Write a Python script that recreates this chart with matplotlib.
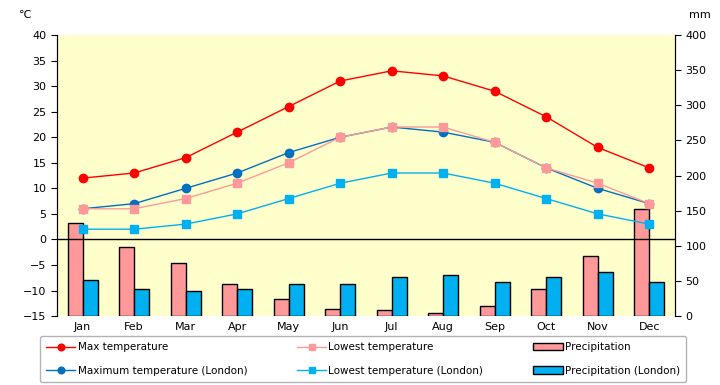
import matplotlib.pyplot as plt
import numpy as np

months = ["Jan", "Feb", "Mar", "Apr", "May", "Jun", "Jul", "Aug", "Sep", "Oct", "Nov", "Dec"]
max_temp = [12, 13, 16, 21, 26, 31, 33, 32, 29, 24, 18, 14]
low_temp = [6, 6, 8, 11, 15, 20, 22, 22, 19, 14, 11, 7]
max_london = [6, 7, 10, 13, 17, 20, 22, 21, 19, 14, 10, 7]
low_london = [2, 2, 3, 5, 8, 11, 13, 13, 11, 8, 5, 3]
precip = [132, 99, 76, 45, 24, 10, 8, 4, 15, 39, 86, 153]
precip_london = [52, 39, 36, 38, 45, 45, 55, 59, 49, 56, 63, 48]

x = np.arange(len(months))
bw = 0.29

fig = plt.figure(figsize=(7.2, 3.85), dpi=100)
ax = fig.add_axes([0.079, 0.179, 0.8585, 0.73])
ax2 = ax.twinx()

# bars on the mm axis, behind the temperature lines
b1 = ax2.bar(x - bw / 2, precip, bw, color="#FF9999", edgecolor="black", linewidth=1)
b2 = ax2.bar(x + bw / 2, precip_london, bw, color="#00B0F0", edgecolor="black", linewidth=1)
ax2.set_ylim(0, 400)
ax2.set_yticks(range(0, 401, 50))
ax2.patch.set_visible(True)
ax2.patch.set_facecolor("#FFFFCC")

ax.set_zorder(ax2.get_zorder() + 1)
ax.patch.set_visible(False)

l1, = ax.plot(x, max_temp, color="#FF0000", marker="o", ms=6, lw=1)
l2, = ax.plot(x, max_london, color="#0070C0", marker="o", ms=6, lw=1)
l3, = ax.plot(x, low_temp, color="#FF9999", marker="s", ms=6, lw=1)
l4, = ax.plot(x, low_london, color="#00B0F0", marker="s", ms=6, lw=1)
ax.axhline(0, color="black", lw=1)

ax.set_ylim(-15, 40)
ax.set_yticks(range(-15, 41, 5))
ax.set_xlim(-0.5, 11.5)
ax.set_xticks(x)
ax.set_xticklabels(months)
ax.tick_params(axis="x", length=0, labelsize=8, pad=4)
ax.tick_params(axis="y", labelsize=8, length=4, direction="out")
ax2.tick_params(axis="y", labelsize=8, length=4, direction="out")

for a in (ax, ax2):
    a.spines["top"].set_visible(False)
    a.spines["bottom"].set_visible(False)

fig.text(0.035, 0.96, "℃", fontsize=8, ha="center", va="center")
fig.text(0.972, 0.96, "mm", fontsize=8, ha="center", va="center")

fig.legend([l1, l2, l3, l4, b1, b2],
           ["Max temperature", "Maximum temperature (London)",
            "Lowest temperature", "Lowest temperature (London)",
            "Precipitation", "Precipitation (London)"],
           ncol=3, loc="lower left", mode="expand", borderaxespad=0,
           bbox_to_anchor=(40 / 720, 3 / 385, 646 / 720, 50 / 385),
           fontsize=7.5, frameon=True, fancybox=True, edgecolor="#A0A0A0",
           markerscale=0.8, handlelength=2.8, handletextpad=0.2,
           borderpad=0.6, labelspacing=1.3)

fig.savefig("out.png", dpi=100)
